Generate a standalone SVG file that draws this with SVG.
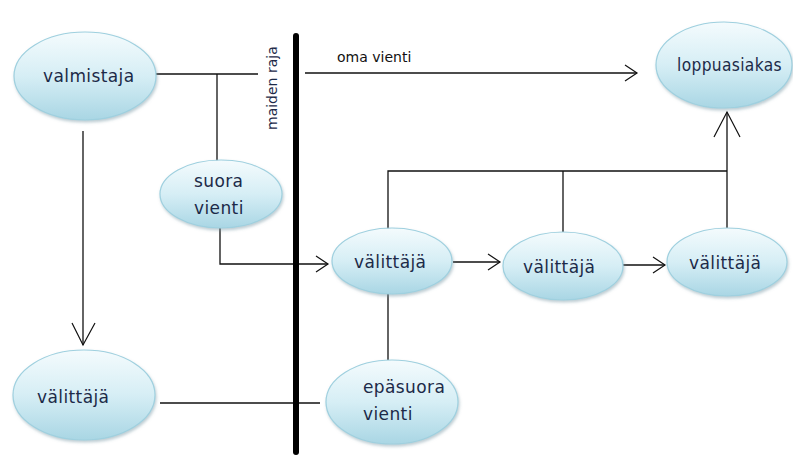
<svg xmlns="http://www.w3.org/2000/svg" width="793" height="455" viewBox="0 0 793 455">
<defs>
<linearGradient id="g" x1="0" y1="0" x2="0" y2="1">
<stop offset="0" stop-color="#f4fbfd"/>
<stop offset="0.5" stop-color="#d6eef5"/>
<stop offset="1" stop-color="#a9d6e4"/>
</linearGradient>
<filter id="sh" x="-10%" y="-10%" width="125%" height="130%">
<feDropShadow dx="1" dy="2" stdDeviation="1.5" flood-color="#7a9aa6" flood-opacity="0.5"/>
</filter>
</defs>
<style>
.n ellipse{fill:url(#g);stroke:#9fd0df;stroke-width:1.2;filter:url(#sh)}
.n text{font-family:"DejaVu Sans",sans-serif;font-size:17px;fill:#1c2a48;letter-spacing:0.4px}
.c{fill:none;stroke:#111;stroke-width:1.3}
.a{fill:none;stroke:#111;stroke-width:1.2}
</style>
<rect width="793" height="455" fill="#fff"/>
<g id="connectors">
<path class="c" d="M155 74 H258"/>
<path class="c" d="M217 74 V163"/>
<path class="c" d="M305 73 H637"/>
<path class="a" d="M625 65 L637 73 L625 81"/>
<path class="c" d="M83 131 V345"/>
<path class="a" d="M72 323 L83 345 L95 323"/>
<path class="c" d="M220 228 V264 H328"/>
<path class="a" d="M316 256 L328 264 L316 272"/>
<path class="c" d="M453 262 H500"/>
<path class="a" d="M488 254 L500 262 L488 270"/>
<path class="c" d="M623 265 H665"/>
<path class="a" d="M653 257 L665 265 L653 273"/>
<path class="c" d="M388 229 V171 H727"/>
<path class="c" d="M563 171 V232"/>
<path class="c" d="M727 228 V112"/>
<path class="a" d="M714 137 L727 112 L740 137"/>
<path class="c" d="M388 294 V360"/>
<path class="c" d="M160 403 H320"/>
<rect x="293" y="33" width="6" height="422" rx="3" fill="#000"/>
<text x="337" y="62" font-family="DejaVu Sans,sans-serif" font-size="14" fill="#111">oma vienti</text>
<text transform="translate(277,130) rotate(-90)" font-family="DejaVu Sans,sans-serif" font-size="14" fill="#1c2a48">maiden raja</text>
</g>
<g id="valmistaja" class="n"><ellipse cx="85" cy="76" rx="71" ry="44"/><text x="43" y="82">valmistaja</text></g>
<g id="loppuasiakas" class="n"><ellipse cx="724" cy="65" rx="68" ry="43"/><text x="677" y="71" textLength="105" lengthAdjust="spacingAndGlyphs">loppuasiakas</text></g>
<g id="suora-vienti" class="n"><ellipse cx="221" cy="194" rx="61" ry="34"/><text x="194" y="187">suora</text><text x="194" y="214">vienti</text></g>
<g id="valittaja1" class="n"><ellipse cx="392" cy="261" rx="60" ry="33"/><text x="354" y="268">välittäjä</text></g>
<g id="valittaja2" class="n"><ellipse cx="563" cy="266" rx="60" ry="34"/><text x="523" y="273">välittäjä</text></g>
<g id="valittaja3" class="n"><ellipse cx="727" cy="262" rx="60" ry="34"/><text x="689" y="269">välittäjä</text></g>
<g id="valittaja-vasen" class="n"><ellipse cx="84" cy="395" rx="71" ry="45"/><text x="37" y="403">välittäjä</text></g>
<g id="epasuora-vienti" class="n"><ellipse cx="392" cy="402" rx="66" ry="42"/><text x="363" y="393">epäsuora</text><text x="363" y="420">vienti</text></g>
</svg>
